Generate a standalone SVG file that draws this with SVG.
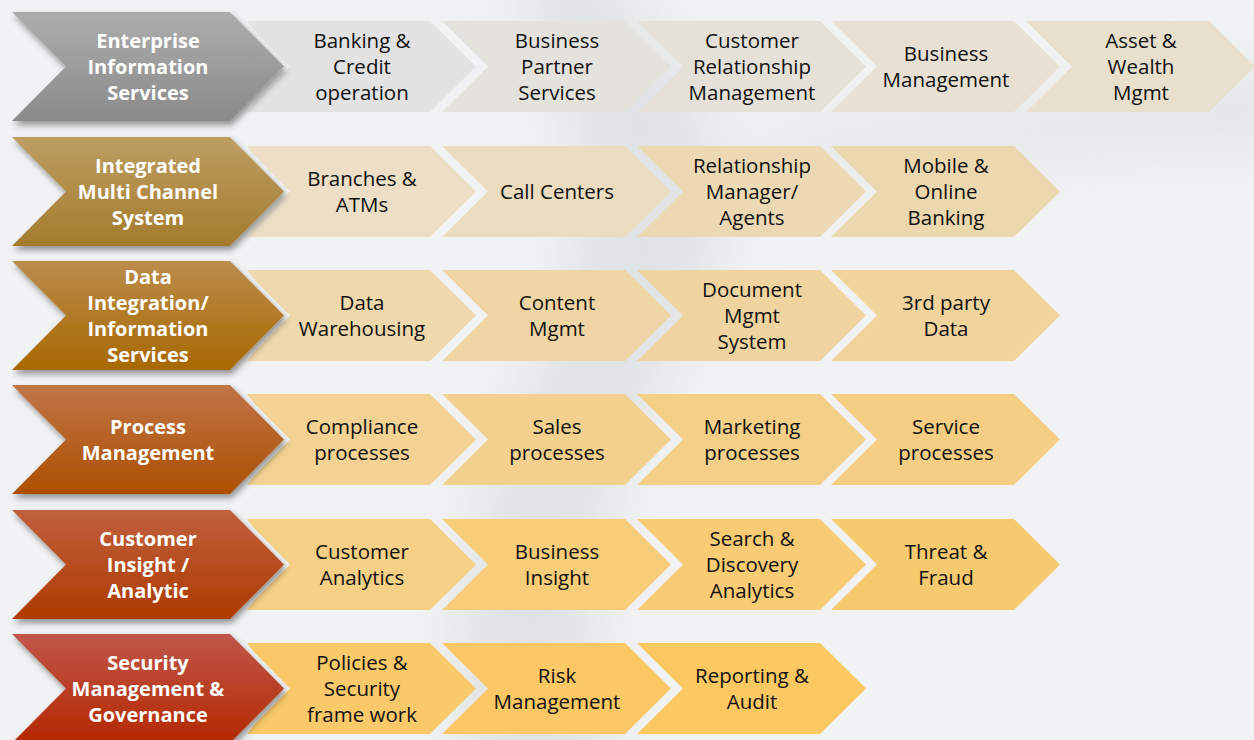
<svg xmlns="http://www.w3.org/2000/svg" width="1254" height="740" viewBox="0 0 1254 740">
<defs>
<style>
.ht{font-family:"Open Sans","Noto Sans","DejaVu Sans",sans-serif;font-weight:700;font-size:20px;fill:#ffffff;text-anchor:middle}
.it{font-family:"Open Sans","Noto Sans","DejaVu Sans",sans-serif;font-size:20.5px;fill:#111111;text-anchor:middle}
.hdr{filter:url(#sh)}
</style>
<filter id="sh" x="-10%" y="-10%" width="125%" height="135%">
<feDropShadow dx="2" dy="4" stdDeviation="3" flood-color="#000" flood-opacity="0.4"/>
</filter>
<filter id="blur" x="-50%" y="-50%" width="200%" height="200%">
<feGaussianBlur stdDeviation="30"/>
</filter>
<linearGradient id="g1" x1="0" y1="0" x2="0" y2="1"><stop offset="0" stop-color="#adadad"/><stop offset="1" stop-color="#8a8a8a"/></linearGradient>
<linearGradient id="g2" x1="0" y1="0" x2="0" y2="1"><stop offset="0" stop-color="#bd9e63"/><stop offset="1" stop-color="#a47b2c"/></linearGradient>
<linearGradient id="g3" x1="0" y1="0" x2="0" y2="1"><stop offset="0" stop-color="#bb8c4c"/><stop offset="1" stop-color="#a86800"/></linearGradient>
<linearGradient id="g4" x1="0" y1="0" x2="0" y2="1"><stop offset="0" stop-color="#c07448"/><stop offset="1" stop-color="#ad4f00"/></linearGradient>
<linearGradient id="g5" x1="0" y1="0" x2="0" y2="1"><stop offset="0" stop-color="#c0603e"/><stop offset="1" stop-color="#ae3a00"/></linearGradient>
<linearGradient id="g6" x1="0" y1="0" x2="0" y2="1"><stop offset="0" stop-color="#c0574a"/><stop offset="1" stop-color="#b42800"/></linearGradient>
<path id="hs" d="M12 0 H230 L284 54.5 L230 109 H12 L66 54.5 Z"/>
<path id="c0" d="M247 9 H430 L476 54.5 L430 100 H247 L254 91 L290 54.5 L254 18 Z"/>
<path id="cn" d="M0 9 H183 L229 54.5 L183 100 H0 L46 54.5 Z"/>
</defs>

<rect width="1254" height="740" fill="#f1f2f3"/>
<g filter="url(#blur)" opacity="0.5">
<path d="M580 -40 C720 60 760 200 690 330 C620 460 560 560 620 780 L470 780 C420 560 520 420 560 300 C600 180 560 60 500 -40 Z" fill="#cfd4d7"/>
<path d="M760 140 C900 110 1100 100 1300 60 L1300 150 C1100 150 900 170 760 180 Z" fill="#d6dadc"/>
</g>

<g id="connectors"></g>

<!-- Row 1 -->
<g id="row1-items">
<g id="n1-1"><use href="#c0" y="12" fill="#e2e2e2"/><text class="it"><tspan x="362" y="47.7">Banking &amp;</tspan><tspan x="362" y="74">Credit</tspan><tspan x="362" y="100.3">operation</tspan></text></g>
<g id="n1-2"><use href="#cn" x="442" y="12" fill="#e4e2dd"/><text class="it"><tspan x="557" y="47.7">Business</tspan><tspan x="557" y="74">Partner</tspan><tspan x="557" y="100.3">Services</tspan></text></g>
<g id="n1-3"><use href="#cn" x="637" y="12" fill="#e5e1d9"/><text class="it"><tspan x="752" y="47.7">Customer</tspan><tspan x="752" y="74">Relationship</tspan><tspan x="752" y="100.3">Management</tspan></text></g>
<g id="n1-4"><use href="#cn" x="831" y="12" fill="#e7e0d3"/><text class="it"><tspan x="946" y="60.85">Business</tspan><tspan x="946" y="87.15">Management</tspan></text></g>
<g id="n1-5"><use href="#cn" x="1026" y="12" fill="#e8dfcd"/><text class="it"><tspan x="1141" y="47.7">Asset &amp;</tspan><tspan x="1141" y="74">Wealth</tspan><tspan x="1141" y="100.3">Mgmt</tspan></text></g>
</g>
<g id="h1"><use href="#hs" y="12" fill="url(#g1)" class="hdr"/><text class="ht"><tspan x="148" y="47.7">Enterprise</tspan><tspan x="148" y="74">Information</tspan><tspan x="148" y="100.3">Services</tspan></text></g>

<!-- Row 2 -->
<g id="row2-items">
<g id="n2-1"><use href="#c0" y="137" fill="#ecdfc6"/><text class="it"><tspan x="362" y="185.85">Branches &amp;</tspan><tspan x="362" y="212.15">ATMs</tspan></text></g>
<g id="n2-2"><use href="#cn" x="442" y="137" fill="#ebdcbf"/><text class="it"><tspan x="557" y="199">Call Centers</tspan></text></g>
<g id="n2-3"><use href="#cn" x="637" y="137" fill="#ecd9b4"/><text class="it"><tspan x="752" y="172.7">Relationship</tspan><tspan x="752" y="199">Manager/</tspan><tspan x="752" y="225.3">Agents</tspan></text></g>
<g id="n2-4"><use href="#cn" x="831" y="137" fill="#ecd8ae"/><text class="it"><tspan x="946" y="172.7">Mobile &amp;</tspan><tspan x="946" y="199">Online</tspan><tspan x="946" y="225.3">Banking</tspan></text></g>
</g>
<g id="h2"><use href="#hs" y="137" fill="url(#g2)" class="hdr"/><text class="ht"><tspan x="148" y="172.7">Integrated</tspan><tspan x="148" y="199">Multi Channel</tspan><tspan x="148" y="225.3">System</tspan></text></g>

<!-- Row 3 -->
<g id="row3-items">
<g id="n3-1"><use href="#c0" y="261" fill="#efd8ab"/><text class="it"><tspan x="362" y="309.85">Data</tspan><tspan x="362" y="336.15">Warehousing</tspan></text></g>
<g id="n3-2"><use href="#cn" x="442" y="261" fill="#f0d5a4"/><text class="it"><tspan x="557" y="309.85">Content</tspan><tspan x="557" y="336.15">Mgmt</tspan></text></g>
<g id="n3-3"><use href="#cn" x="637" y="261" fill="#f0d49f"/><text class="it"><tspan x="752" y="296.7">Document</tspan><tspan x="752" y="323">Mgmt</tspan><tspan x="752" y="349.3">System</tspan></text></g>
<g id="n3-4"><use href="#cn" x="831" y="261" fill="#f1d39c"/><text class="it"><tspan x="946" y="309.85">3rd party</tspan><tspan x="946" y="336.15">Data</tspan></text></g>
</g>
<g id="h3"><use href="#hs" y="261" fill="url(#g3)" class="hdr"/><text class="ht"><tspan x="148" y="283.55">Data</tspan><tspan x="148" y="309.85">Integration/</tspan><tspan x="148" y="336.15">Information</tspan><tspan x="148" y="362.45">Services</tspan></text></g>

<!-- Row 4 -->
<g id="row4-items">
<g id="n4-1"><use href="#c0" y="385" fill="#f3d294"/><text class="it"><tspan x="362" y="433.85">Compliance</tspan><tspan x="362" y="460.15">processes</tspan></text></g>
<g id="n4-2"><use href="#cn" x="442" y="385" fill="#f3d08d"/><text class="it"><tspan x="557" y="433.85">Sales</tspan><tspan x="557" y="460.15">processes</tspan></text></g>
<g id="n4-3"><use href="#cn" x="637" y="385" fill="#f4cf88"/><text class="it"><tspan x="752" y="433.85">Marketing</tspan><tspan x="752" y="460.15">processes</tspan></text></g>
<g id="n4-4"><use href="#cn" x="831" y="385" fill="#f5ce84"/><text class="it"><tspan x="946" y="433.85">Service</tspan><tspan x="946" y="460.15">processes</tspan></text></g>
</g>
<g id="h4"><use href="#hs" y="385" fill="url(#g4)" class="hdr"/><text class="ht"><tspan x="148" y="433.85">Process</tspan><tspan x="148" y="460.15">Management</tspan></text></g>

<!-- Row 5 -->
<g id="row5-items">
<g id="n5-1"><use href="#c0" y="510" fill="#f6d084"/><text class="it"><tspan x="362" y="558.85">Customer</tspan><tspan x="362" y="585.15">Analytics</tspan></text></g>
<g id="n5-2"><use href="#cn" x="442" y="510" fill="#f7cd7a"/><text class="it"><tspan x="557" y="558.85">Business</tspan><tspan x="557" y="585.15">Insight</tspan></text></g>
<g id="n5-3"><use href="#cn" x="637" y="510" fill="#f8cb74"/><text class="it"><tspan x="752" y="545.7">Search &amp;</tspan><tspan x="752" y="572">Discovery</tspan><tspan x="752" y="598.3">Analytics</tspan></text></g>
<g id="n5-4"><use href="#cn" x="831" y="510" fill="#f8ca70"/><text class="it"><tspan x="946" y="558.85">Threat &amp;</tspan><tspan x="946" y="585.15">Fraud</tspan></text></g>
</g>
<g id="h5"><use href="#hs" y="510" fill="url(#g5)" class="hdr"/><text class="ht"><tspan x="148" y="545.7">Customer</tspan><tspan x="148" y="572">Insight /</tspan><tspan x="148" y="598.3">Analytic</tspan></text></g>

<!-- Row 6 -->
<g id="row6-items">
<g id="n6-1"><use href="#c0" y="634" fill="#fac96a"/><text class="it"><tspan x="362" y="669.7">Policies &amp;</tspan><tspan x="362" y="696">Security</tspan><tspan x="362" y="722.3">frame work</tspan></text></g>
<g id="n6-2"><use href="#cn" x="442" y="634" fill="#fbc865"/><text class="it"><tspan x="557" y="682.85">Risk</tspan><tspan x="557" y="709.15">Management</tspan></text></g>
<g id="n6-3"><use href="#cn" x="637" y="634" fill="#fcc862"/><text class="it"><tspan x="752" y="682.85">Reporting &amp;</tspan><tspan x="752" y="709.15">Audit</tspan></text></g>
</g>
<g id="h6"><use href="#hs" y="634" fill="url(#g6)" class="hdr"/><text class="ht"><tspan x="148" y="669.7">Security</tspan><tspan x="148" y="696">Management &amp;</tspan><tspan x="148" y="722.3">Governance</tspan></text></g>
</svg>
